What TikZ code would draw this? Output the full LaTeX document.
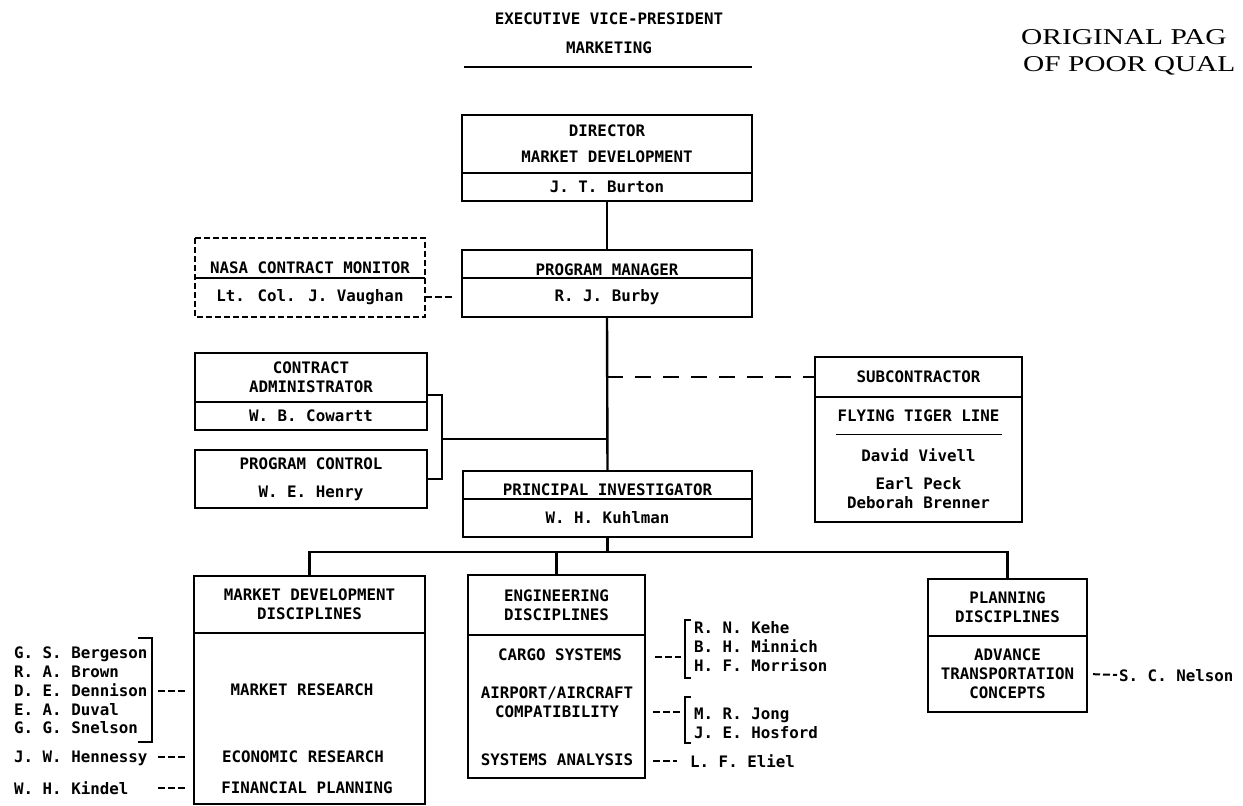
\documentclass[tikz,border=0pt]{standalone}
\usepackage{fontspec}
\usepackage{graphicx}
\usetikzlibrary{positioning}
\newfontfamily\orgmono{DejaVu Sans Mono}
\newfontfamily\stampserif{Liberation Serif}

\begin{document}
\begin{tikzpicture}[x=0.5pt,y=-0.5pt,line width=1.2pt,
  every node/.style={font=\orgmono\bfseries\fontsize{7.9}{9.4}\selectfont},
  box/.style={draw,rectangle,inner sep=0pt,outer sep=0pt,align=center},
  txt/.style={inner sep=0pt,align=center,text depth=0pt},
  names/.style={inner sep=0pt,align=left,anchor=west,text depth=0pt},
  dsh/.style={line width=1pt,dash pattern=on 3.5pt off 1.5pt},
  longdsh/.style={line width=1.4pt,dash pattern=on 8pt off 6pt},
  stamp/.style={font=\stampserif\fontsize{11.3}{13}\selectfont,inner sep=0pt,anchor=west,text depth=0pt}]
  \useasboundingbox (0,0) rectangle (1243,806);

  % heading
  \node[txt] (VP) at (609,33.5) {EXECUTIVE VICE-PRESIDENT\\[5pt]MARKETING};
  \draw[line width=0.8pt] (464,67) -- (752,67);
  \node[stamp] (orig) at (1020,37) {\scalebox{1.3}[1]{ORIGINAL PAG}};
  \node[stamp] (poor) at (1022,64) {\scalebox{1.3}[1]{OF POOR QUAL}};

  % upper boxes
  \node[box,minimum width=145pt,minimum height=29pt] (D1) at (607,144) {DIRECTOR\\[3.6pt]MARKET DEVELOPMENT};
  \node[box,minimum width=145pt,minimum height=14pt,below=0pt of D1] (D2) {J. T. Burton};
  \node[box,minimum width=145pt,minimum height=14pt,text height=11.8pt,text depth=0pt] (P1) at (607,264) {PROGRAM MANAGER};
  \node[box,minimum width=145pt,minimum height=19.5pt,below=0pt of P1] (P2) {R. J. Burby};
  \node[box,draw=none,minimum width=115pt,minimum height=20pt,text height=15.8pt,text depth=0pt] (N1) at (310,258) {NASA CONTRACT MONITOR};
  \node[box,draw=none,minimum width=115pt,minimum height=19.5pt,below=0pt of N1] (N2) {Lt. Col. J. Vaughan};
  \draw[line width=0.9pt,dash pattern=on 3pt off 1.5pt] (N1.north west) rectangle (N2.south east);
  \draw[line width=0.8pt] (N1.south west) -- (N1.south east);
  \node[box,minimum width=116pt,minimum height=24.5pt] (C1) at (311,377.5) {CONTRACT\\ADMINISTRATOR};
  \node[box,minimum width=116pt,minimum height=14pt,below=0pt of C1] (C2) {W. B. Cowartt};
  \node[box,minimum width=116pt,minimum height=29pt] (PC) at (311,479) {PROGRAM CONTROL\\[4.6pt]W. E. Henry};
  \node[box,minimum width=103.5pt,minimum height=20pt] (S1) at (918.5,377) {SUBCONTRACTOR};
  \node[box,minimum width=103.5pt,minimum height=62.5pt,below=0pt of S1] (S2)
    {FLYING TIGER LINE\\[-2.5pt]\rule{83pt}{0.9pt}\\[3.5pt]David Vivell\\[4.5pt]Earl Peck\\[0.5pt]Deborah Brenner};
  \node[box,minimum width=144.5pt,minimum height=14pt,text height=10.8pt,text depth=0pt] (I1) at (607.5,485) {PRINCIPAL INVESTIGATOR};
  \node[box,minimum width=144.5pt,minimum height=19pt,below=0pt of I1] (I2) {W. H. Kuhlman};

  % disciplines
  \node[box,minimum width=115.5pt,minimum height=28.5pt] (M1) at (309.5,604.5) {MARKET DEVELOPMENT\\DISCIPLINES};
  \node[box,minimum width=115.5pt,minimum height=85.5pt,below=0pt of M1] (M2) {};
  \node[txt] (mres) at (302,690) {MARKET RESEARCH};
  \node[txt] (econ) at (303,757) {ECONOMIC RESEARCH};
  \node[txt] (fin) at (307,788) {FINANCIAL PLANNING};
  \node[box,minimum width=88.5pt,minimum height=30pt] (E1) at (556.5,605) {ENGINEERING\\DISCIPLINES};
  \node[box,minimum width=88.5pt,minimum height=71.5pt,below=0pt of E1] (E2) {};
  \node[txt] (cargo) at (560,655) {CARGO SYSTEMS};
  \node[txt] (air) at (557,702.5) {AIRPORT/AIRCRAFT\\COMPATIBILITY};
  \node[txt] (sysan) at (557,760) {SYSTEMS ANALYSIS};
  \node[box,minimum width=79.5pt,minimum height=28.5pt] (L1) at (1007.5,607.5) {PLANNING\\DISCIPLINES};
  \node[box,minimum width=79.5pt,minimum height=38pt,below=0pt of L1] (L2) {ADVANCE\\TRANSPORTATION\\CONCEPTS};

  % people
  \node[names] (mnames) at (13,690.5) {G. S. Bergeson\\R. A. Brown\\D. E. Dennison\\E. A. Duval\\G. G. Snelson};
  \node[names] (hen) at (13,757) {J. W. Hennessy};
  \node[names] (kin) at (13,788) {W. H. Kindel};
  \node[names] (cnames) at (693,646.5) {R. N. Kehe\\B. H. Minnich\\H. F. Morrison};
  \node[names] (anames) at (693,723) {M. R. Jong\\J. E. Hosford};
  \node[names] (eliel) at (689,761) {L. F. Eliel};
  \node[names] (nelson) at (1118,675) {S. C. Nelson};

  % brackets
  \draw (138,638) -- (152,638) -- (152,742) -- (138,742);
  \draw (691,620) -- (685,620) -- (685,678) -- (691,678);
  \draw (691,697) -- (685,697) -- (685,743) -- (691,743);
  \coordinate (mb) at (152,691);
  \coordinate (br1) at (685,657);
  \coordinate (br2) at (685,712);

  % lines
  \draw (D2.south) -- (P1.north);
  \draw (P2.south) -- (I1.north);
  \draw[dsh,shorten >=4pt] (N2.east) -- (P2.west);
  \draw[longdsh] (P2.south |- S1.west) -- (S1.west);
  \coordinate (cb) at (442,439);
  \draw ([yshift=-8.75pt]C1.east) -| (cb) |- (PC.east);
  \draw (cb) -- (cb -| P2.south);
  \coordinate (bus) at (607.5,552);
  \draw (I2.south) -- (bus);
  \draw (M1.north) |- (bus) -| (L1.north);
  \draw (E1.north) -- (E1.north |- bus);

  \draw[dsh,shorten <=3pt,shorten >=4.5pt] (mb) -- (M2.west |- mb);
  \draw[dsh,shorten <=3pt,shorten >=4.5pt] (mb |- hen) -- (M2.west |- hen);
  \draw[dsh,shorten <=3pt,shorten >=4.5pt] (mb |- kin) -- (M2.west |- kin);
  \draw[dsh,shorten <=5pt,shorten >=2pt] (E2.east |- br1) -- (br1);
  \draw[dsh,shorten <=4pt,shorten >=2pt] (E2.east |- br2) -- (br2);
  \draw[dsh,shorten <=4pt,shorten >=6pt] (E2.east |- eliel) -- (eliel.west);
  \draw[dsh,shorten <=3pt,shorten >=0.5pt] (L2.east) -- (nelson.west);
\end{tikzpicture}
\end{document}
